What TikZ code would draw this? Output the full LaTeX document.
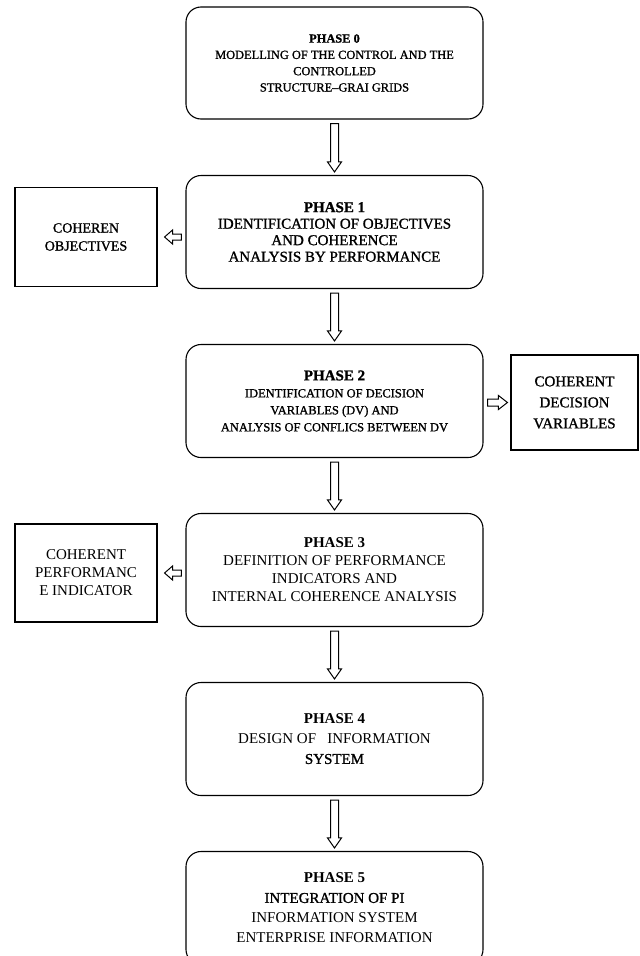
\documentclass[tikz,border=0pt]{standalone}
\usepackage{tikz}
\usetikzlibrary{shapes,arrows,positioning,calc}
\usepackage{fontspec}
\setmainfont{Liberation Serif}
\newfontfamily\heavy[FakeBold=1.2, Ligatures=TeX]{Liberation Serif}

\tikzset{
  hollow/.style n args={3}{draw, line width=1pt, fill=white, to path={
    ($(\tikztostart)!#1!90:(\tikztotarget)$)
    -- ($($(\tikztotarget)!#3!(\tikztostart)$)!#1!-90:(\tikztostart)$)
    -- ($($(\tikztotarget)!#3!(\tikztostart)$)!#2!-90:(\tikztostart)$)
    -- (\tikztotarget)
    -- ($($(\tikztotarget)!#3!(\tikztostart)$)!#2!90:(\tikztostart)$)
    -- ($($(\tikztotarget)!#3!(\tikztostart)$)!#1!90:(\tikztostart)$)
    -- ($(\tikztostart)!#1!-90:(\tikztotarget)$)
    -- cycle}}
}

\begin{document}
\begin{tikzpicture}[x=1pt, y=-1pt, auto, node distance=169pt]
        \tikzstyle{phase}=[draw, rounded corners=15pt, line width=1.1pt, minimum width=297pt, minimum height=113pt, align=center, font=\fontsize{15}{18}\selectfont]
        \tikzstyle{result}=[draw, line width=1.1pt, align=center, font=\fontsize{15}{18}\selectfont]
        \useasboundingbox (0,0) rectangle (640,956);
        \clip (0,0) rectangle (640,956);
        \node[phase, minimum height=112pt, font=\heavy\fontsize{12.4}{16.3}\selectfont] (P0) at (334.5,63)
            {\textbf{PHASE 0}\\MODELLING OF THE CONTROL AND THE\\CONTROLLED\\STRUCTURE--GRAI GRIDS};
        \node[phase, font=\heavy\fontsize{15}{16.5}\selectfont] (P1)[below of=P0]
            {\textbf{PHASE 1}\\IDENTIFICATION OF OBJECTIVES\\AND COHERENCE\\ANALYSIS BY PERFORMANCE};
        \node[phase, font=\heavy\fontsize{12.5}{17}\selectfont] (P2)[below of=P1]
            {{\fontsize{15}{17}\selectfont\textbf{PHASE 2}}\\IDENTIFICATION OF DECISION\\VARIABLES (DV) AND\\ANALYSIS OF CONFLICS BETWEEN DV};
        \node[phase] (P3)[below of=P2]
            {\textbf{PHASE 3}\\DEFINITION OF PERFORMANCE\\INDICATORS AND\\INTERNAL COHERENCE ANALYSIS};
        \node[phase, font=\fontsize{15}{20}\selectfont] (P4)[below of=P3]
            {\textbf{PHASE 4}\\DESIGN OF \ \ INFORMATION\\{\heavy SYSTEM}};
        \node[phase, font=\fontsize{15}{20}\selectfont] (P5)[below of=P4]
            {\textbf{PHASE 5}\\{\heavy INTEGRATION OF PI}\\INFORMATION SYSTEM\\ENTERPRISE INFORMATION};
        % side results
        \node[result, minimum width=142pt, minimum height=99pt, font=\heavy\fontsize{14}{18}\selectfont] (OBJ)[node distance=248.5pt, left of=P1, yshift=-5pt]
            {COHEREN\\OBJECTIVES};
        \node[result, minimum width=127pt, minimum height=95pt, font=\heavy\fontsize{15}{21}\selectfont] (DV)[node distance=240pt, right of=P2, yshift=-1.5pt]
            {COHERENT\\DECISION\\VARIABLES};
        \node[result, minimum width=142pt, minimum height=98pt] (PI)[node distance=248.5pt, left of=P3, yshift=-3pt]
            {COHERENT\\PERFORMANC\\E INDICATOR};
        \path
        ([yshift=-4pt]P0.south) edge[hollow={4pt}{7pt}{10pt}] ([yshift=3pt]P1.north)
        ([yshift=-4pt]P1.south) edge[hollow={4pt}{7pt}{10pt}] ([yshift=3pt]P2.north)
        ([yshift=-4pt]P2.south) edge[hollow={4pt}{7pt}{10pt}] ([yshift=3pt]P3.north)
        ([yshift=-4pt]P3.south) edge[hollow={4pt}{7pt}{10pt}] ([yshift=3pt]P4.north)
        ([yshift=-4pt]P4.south) edge[hollow={4pt}{7pt}{10pt}] ([yshift=3pt]P5.north)
        ([xshift=-4pt]P1.west |- OBJ) edge[hollow={3pt}{7pt}{8pt}] ([xshift=7pt]OBJ.east)
        ([xshift=4pt]P2.east |- DV) edge[hollow={3.5pt}{7pt}{9pt}] ([xshift=-3pt]DV.west)
        ([xshift=-4pt]P3.west |- PI) edge[hollow={3pt}{7pt}{8pt}] ([xshift=7pt]PI.east);
\end{tikzpicture}
\end{document}
